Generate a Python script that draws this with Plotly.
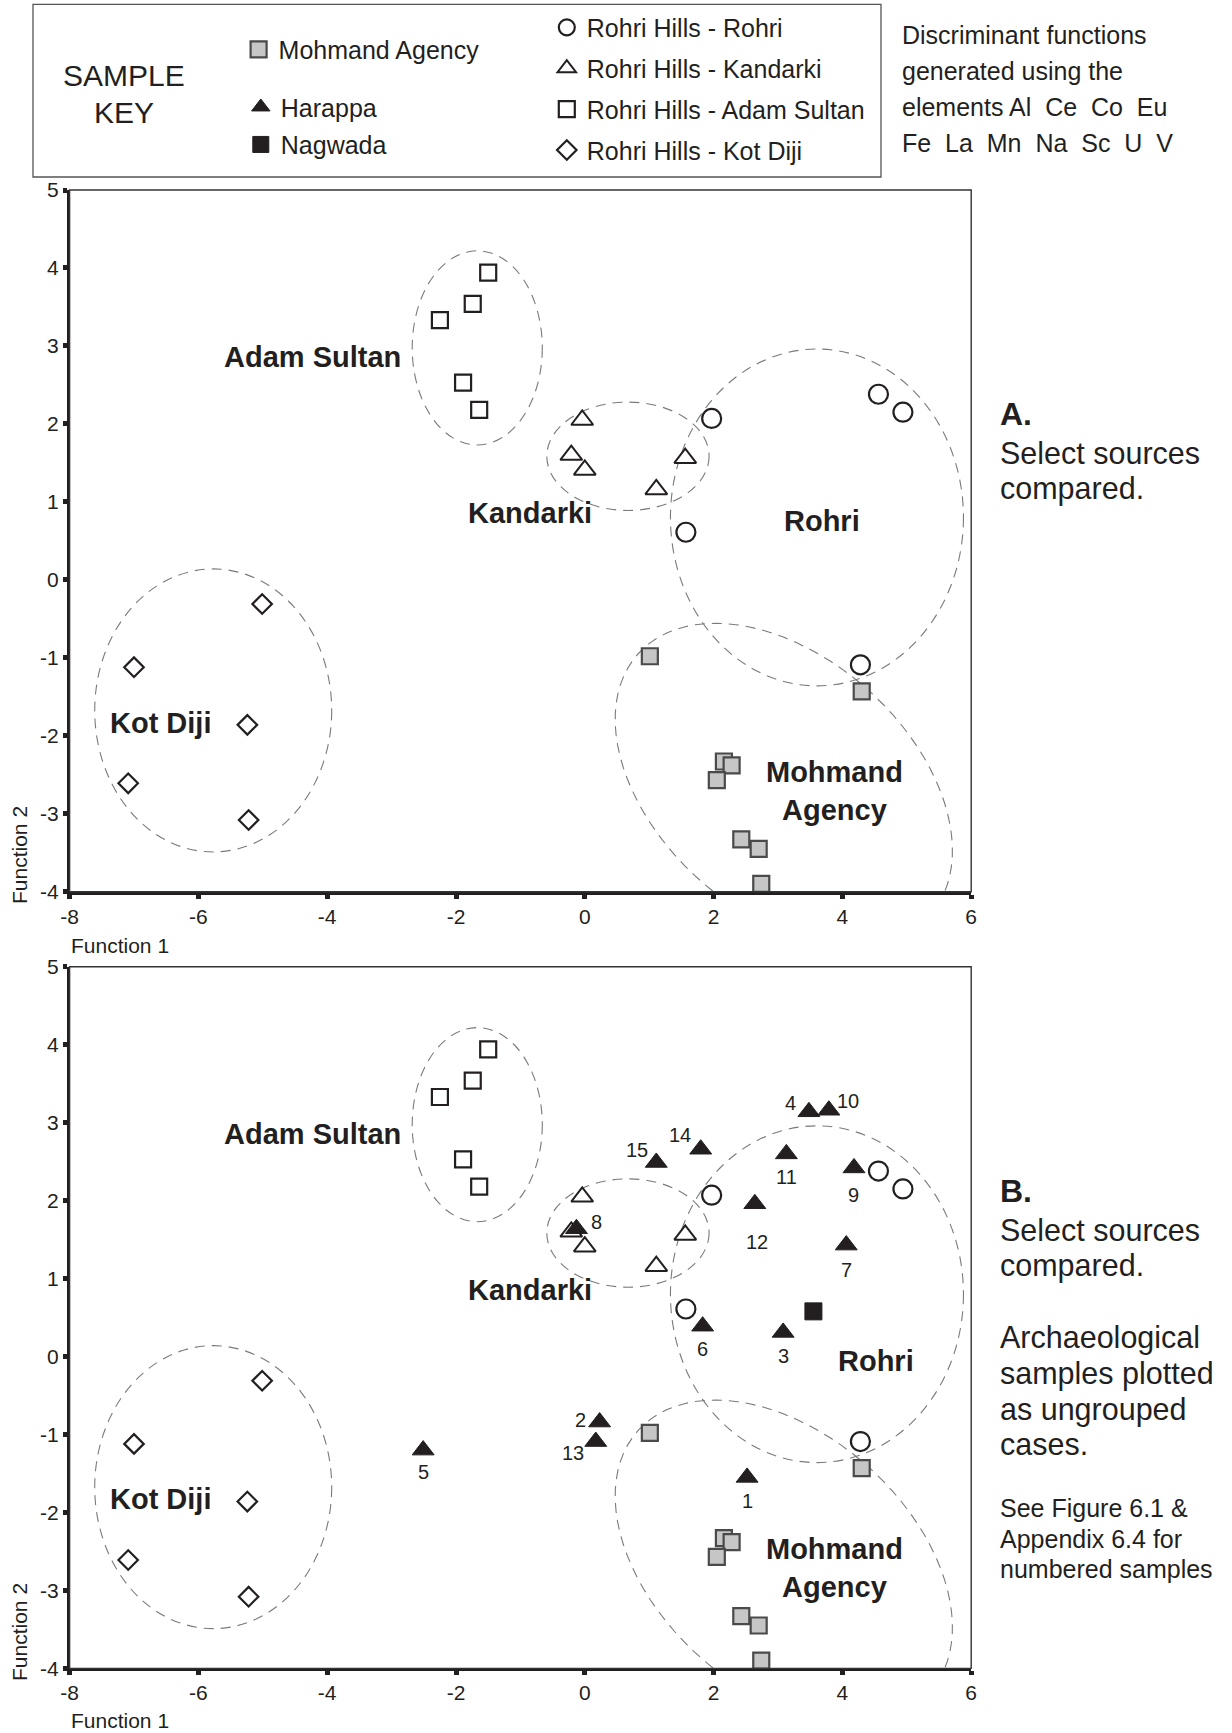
import math
import plotly.graph_objects as go

W, H = 1232, 1733
FONT = "Liberation Sans, Arial, Helvetica, sans-serif"
INK = "#231f20"

# ---------------- data: discriminant function scores ----------------
mohmand_f1 = [1.01, 4.30, 2.16, 2.28, 2.05, 2.43, 2.70, 2.74]
mohmand_f2 = [-0.98, -1.43, -2.33, -2.38, -2.57, -3.33, -3.45, -3.90]
rohri_f1 = [1.97, 1.57, 4.56, 4.94, 4.28]
rohri_f2 = [2.07, 0.61, 2.38, 2.15, -1.09]
kandarki_f1 = [-0.04, -0.21, 0.00, 1.56, 1.11]
kandarki_f2 = [2.05, 1.60, 1.41, 1.56, 1.16]
adam_f1 = [-1.50, -1.74, -2.25, -1.89, -1.64]
adam_f2 = [3.94, 3.54, 3.33, 2.53, 2.18]
kotdiji_f1 = [-5.01, -7.00, -5.24, -7.09, -5.22]
kotdiji_f2 = [-0.31, -1.12, -1.86, -2.61, -3.08]
harappa_id = ["4", "10", "15", "14", "11", "9", "12", "8", "7", "6", "3", "2", "13", "5", "1"]
harappa_f1 = [3.48, 3.79, 1.11, 1.80, 3.13, 4.18, 2.64, -0.13, 4.06, 1.83, 3.08, 0.23, 0.17, -2.51, 2.52]
harappa_f2 = [3.14, 3.16, 2.49, 2.66, 2.60, 2.42, 1.96, 1.64, 1.43, 0.39, 0.31, -0.84, -1.09, -1.20, -1.55]
nagwada_f1 = [3.55]
nagwada_f2 = [0.58]

xtick_vals = [-8, -6, -4, -2, 0, 2, 4, 6]
xtick_text = ["-8", "-6", "-4", "-2", "0", "2", "4", "6"]
ytick_vals = [-4, -3, -2, -1, 0, 1, 2, 3, 4, 5]
ytick_text = ["-4", "-3", "-2", "-1", "0", "1", "2", "3", "4", "5"]

# ---------------- style / geometry ----------------
harappa_dx = [-18, 19, -19, -21, 0, 0, 2, 20, 0, 0, 0, -19, -23, 0, 0]
harappa_dy = [9, 9, 12, 14, -23, -27, -38, 7, -25, -23, -24, 2, -11, -22, -24]

# group envelopes (x0, x1, y0, y1) in function units
env_adam = (-2.68, -0.66, 1.73, 4.22)
env_kand = (-0.59, 1.93, 0.89, 2.28)
env_kot = (-7.61, -3.93, -3.49, 0.14)
env_rohri = (1.33, 5.88, -1.36, 2.96)
# tilted envelope: centre (f1, f2), semi-axes in px, tilt in degrees (screen)
env_mohm = (3.09, -2.63, 196, 127, 42)


def px(x):
    return x / W


def py(y):
    return 1 - y / H


X0, X1 = 69.6, 971.2
YT0, YT1 = 190.0, 891.7
YB0, YB1 = 966.8, 1668.4
XD = [px(X0), px(X1)]
YD_TOP = [py(YT1), py(YT0)]
YD_BOT = [py(YB1), py(YB0)]
SX = (X1 - X0) / 14.0
SY = (YT1 - YT0) / 9.0


def tilted_path(cx, cy, a, b, deg, n=90):
    t = math.radians(deg)
    pts = []
    for i in range(n):
        p = 2 * math.pi * i / n
        ex = a * math.cos(p)
        ey = b * math.sin(p)
        dxp = ex * math.cos(t) - ey * math.sin(t)
        dyp = ex * math.sin(t) + ey * math.cos(t)
        pts.append((cx + dxp / SX, cy - dyp / SY))
    return "M" + "L".join("%.4f,%.4f" % q for q in pts) + "Z"


fig = go.Figure()

groups = [
    ("Rohri Hills - Rohri", rohri_f1, rohri_f2,
     dict(symbol="circle", size=19, color="white", line=dict(color=INK, width=2.2)), "legend4"),
    ("Rohri Hills - Kandarki", kandarki_f1, kandarki_f2,
     dict(symbol="triangle-up", size=19, color="white", line=dict(color=INK, width=2.0)), "legend5"),
    ("Rohri Hills - Adam Sultan", adam_f1, adam_f2,
     dict(symbol="square", size=16, color="white", line=dict(color=INK, width=2.2)), "legend6"),
    ("Rohri Hills - Kot Diji", kotdiji_f1, kotdiji_f2,
     dict(symbol="diamond", size=15, color="white", line=dict(color=INK, width=2.2)), "legend7"),
    ("Mohmand Agency", mohmand_f1, mohmand_f2,
     dict(symbol="square", size=16, color="#c6c6c6", line=dict(color="#4a4a4a", width=2.2)), "legend"),
]

for panel, (xa, ya) in enumerate([("x", "y"), ("x2", "y2")]):
    for name, fx, fy, mk, lg in groups:
        fig.add_trace(go.Scatter(
            x=fx, y=fy, mode="markers", name=name, marker=mk,
            xaxis=xa, yaxis=ya, cliponaxis=False, legendgroup=name,
            showlegend=(panel == 0), legend=lg, hoverinfo="skip"))

fig.add_trace(go.Scatter(
    x=nagwada_f1, y=nagwada_f2, mode="markers", name="Nagwada",
    marker=dict(symbol="square", size=17, color=INK, line=dict(color=INK, width=1)),
    xaxis="x2", yaxis="y2", cliponaxis=False, legend="legend3", hoverinfo="skip"))
fig.add_trace(go.Scatter(
    x=harappa_f1, y=harappa_f2, mode="markers", name="Harappa",
    marker=dict(symbol="triangle-up", size=19, color=INK, line=dict(color=INK, width=1)),
    xaxis="x2", yaxis="y2", cliponaxis=False, legend="legend2", hoverinfo="skip"))


def leg(xc, yc):
    return dict(x=px(xc - 20), y=py(yc), xanchor="left", yanchor="middle",
                bgcolor="rgba(0,0,0,0)", borderwidth=0, itemwidth=30,
                font=dict(size=25, family=FONT, color=INK))


axis_common = dict(showgrid=False, zeroline=False, showline=True,
                   linewidth=2.6, linecolor=INK, ticks="outside", ticklen=4,
                   tickwidth=4.5, tickcolor=INK, automargin=False,
                   tickfont=dict(size=21, family=FONT, color=INK))

fig.update_layout(
    width=W, height=H, margin=dict(l=0, r=0, t=0, b=0, autoexpand=False),
    paper_bgcolor="white", plot_bgcolor="white",
    font=dict(family=FONT, color=INK),
    xaxis=dict(axis_common, domain=XD, range=[-8, 6], tickvals=xtick_vals,
               ticktext=xtick_text, anchor="y"),
    yaxis=dict(axis_common, domain=YD_TOP, range=[-4, 5], tickvals=ytick_vals,
               ticktext=ytick_text, anchor="x"),
    xaxis2=dict(axis_common, domain=XD, range=[-8, 6], tickvals=xtick_vals,
                ticktext=xtick_text, anchor="y2"),
    yaxis2=dict(axis_common, domain=YD_BOT, range=[-4, 5], tickvals=ytick_vals,
                ticktext=ytick_text, anchor="x2"),
    legend=leg(258.6, 49.7),
    legend2=leg(260.8, 107.2),
    legend3=leg(260.8, 144.7),
    legend4=leg(566.8, 27.6),
    legend5=leg(566.8, 68.5),
    legend6=leg(566.8, 109.4),
    legend7=leg(566.8, 150.3),
)

shapes = []
shapes.append(dict(type="rect", xref="paper", yref="paper",
                   x0=px(33), x1=px(881), y0=py(177), y1=py(4.4),
                   line=dict(color="#555", width=1.3)))
DASH = dict(color="#7a7a7a", width=1.1, dash="10px,7px")
for xa, ya in [("x", "y"), ("x2", "y2")]:
    shapes.append(dict(type="rect", xref=xa + " domain", yref=ya + " domain",
                       x0=0, x1=1, y0=0, y1=1, line=dict(color="#333", width=1.4)))
    for e in [env_adam, env_kand, env_kot, env_rohri]:
        shapes.append(dict(type="circle", xref=xa, yref=ya,
                           x0=e[0], x1=e[1], y0=e[2], y1=e[3],
                           line=DASH, layer="below"))
    shapes.append(dict(type="path", xref=xa, yref=ya, path=tilted_path(*env_mohm),
                       line=DASH, layer="below"))
fig.update_layout(shapes=shapes)

ann = []


def ptext(text, xpix, ypix, size, bold=False, xanchor="left", angle=0):
    if bold:
        text = "<b>" + text + "</b>"
    ann.append(dict(text=text, x=px(xpix), y=py(ypix), xref="paper", yref="paper",
                    xanchor=xanchor, yanchor="middle", showarrow=False, textangle=angle,
                    font=dict(size=size, family=FONT, color=INK)))


NB = "\u00a0"
ptext("SAMPLE", 124, 75, 30, xanchor="center")
ptext("KEY", 124, 112, 30, xanchor="center")
ptext("Discriminant functions", 900, 35, 25)
ptext("generated using the", 900, 71, 25)
ptext("elements Al" + NB * 2 + "Ce" + NB * 2 + "Co" + NB * 2 + "Eu", 900, 107, 25)
ptext("Fe" + NB * 2 + "La" + NB * 2 + "Mn" + NB * 2 + "Na" + NB * 2 + "Sc" + NB * 2 + "U" + NB * 2 + "V", 900, 143, 25)

TX = 998
ptext("A.", TX, 414, 32, bold=True)
ptext("Select sources", TX, 453, 30.5)
ptext("compared.", TX, 488, 30.5)

ptext("B.", TX, 1191, 32, bold=True)
ptext("Select sources", TX, 1230, 30.5)
ptext("compared.", TX, 1265, 30.5)
ptext("Archaeological", TX, 1337, 30.5)
ptext("samples plotted", TX, 1373, 30.5)
ptext("as ungrouped", TX, 1409, 30.5)
ptext("cases.", TX, 1444, 30.5)
ptext("See Figure 6.1 &amp;", TX, 1508, 25)
ptext("Appendix 6.4 for", TX, 1539, 25)
ptext("numbered samples", TX, 1569, 25)

ptext("Function 1", 69, 945, 21)
ptext("Function 1", 69, 1720, 21)
ptext("Function 2", 19, 855, 21, xanchor="center", angle=-90)
ptext("Function 2", 19, 1632, 21, xanchor="center", angle=-90)

for xa, ya, rohri_pos in [("x", "y", (3.68, 0.75)), ("x2", "y2", (4.52, -0.06))]:
    for txt, (gx, gy) in [("Adam Sultan", (-4.23, 2.86)), ("Kandarki", (-0.85, 0.86)),
                          ("Rohri", rohri_pos), ("Kot Diji", (-6.58, -1.83)),
                          ("Mohmand<br>Agency", (3.87, -2.71))]:
        ann.append(dict(text="<b>" + txt + "</b>", x=gx, y=gy, xref=xa, yref=ya,
                        showarrow=False, xanchor="center", yanchor="middle",
                        font=dict(size=29, family=FONT, color=INK)))

for lab, fx, fy, dx, dy in zip(harappa_id, harappa_f1, harappa_f2, harappa_dx, harappa_dy):
    ann.append(dict(text=lab, x=fx, y=fy, xref="x2", yref="y2", showarrow=False,
                    xshift=dx, yshift=dy, xanchor="center", yanchor="middle",
                    font=dict(size=20, family=FONT, color=INK)))

fig.update_layout(annotations=ann)

fig.write_html("out.html",
               config={"displayModeBar": False},
               post_script="document.body.style.margin='0px';"
                           "document.body.style.overflow='hidden';")
